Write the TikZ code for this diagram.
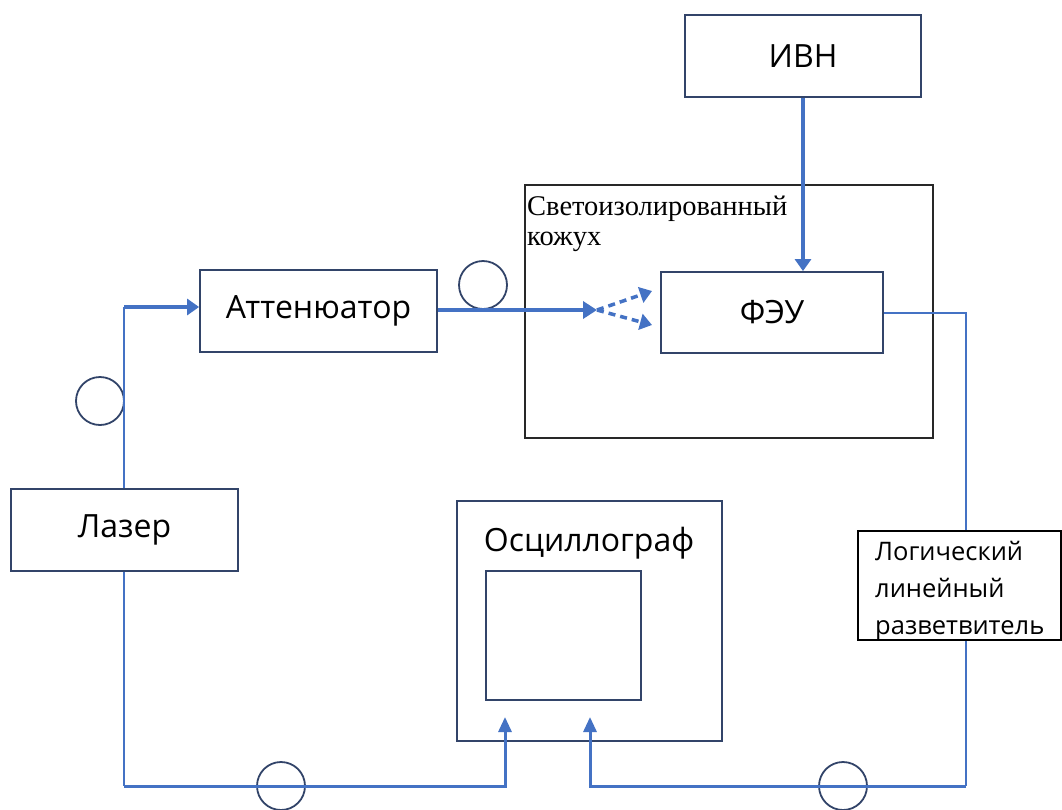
\documentclass[tikz,border=0pt]{standalone}
\usepackage{fontspec}
\setmainfont{Open Sans}
\newfontfamily\serifrm{Liberation Serif}
\usetikzlibrary{arrows.meta,positioning}
\definecolor{lineblue}{RGB}{68,114,196}
\definecolor{boxblue}{RGB}{50,68,105}
\definecolor{darkgray}{RGB}{40,40,40}

\begin{document}
\begin{tikzpicture}[
  x=1pt, y=-1pt,
  every node/.style={inner sep=0pt, text centered},
  block/.style={rectangle, draw=boxblue, line width=1.8pt, font=\fontsize{32}{38}\selectfont},
  loop/.style={circle, draw=boxblue, line width=1.8pt, minimum size=48pt},
  fibre/.style={lineblue, line width=2pt},
  arrow/.style={-{Triangle[length=12pt,width=16pt]}, lineblue, line width=4.5pt},
  sigarrow/.style={-{Triangle[length=15pt,width=13pt]}, lineblue, line width=3pt},
  beam/.style={-{Triangle[length=12pt,width=16pt]}, lineblue, line width=3.5pt, dash pattern=on 7pt off 5pt}
]
\clip (0,0) rectangle (1062,809);
\fill[white] (0,0) rectangle (1062,809);

% Housing
\node[rectangle, draw=darkgray, line width=1.8pt, minimum width=408pt, minimum height=253pt] (kozhuh) at (729,311.5) {};
\node[font=\serifrm\fontsize{28.5}{30}\selectfont, align=left, anchor=north west] (kozhuhlabel) at (527,196) {Светоизолированный\\кожух};

% Blocks
\node[block, minimum width=236pt, minimum height=82pt] (ivn) at (803,56) {ИВН};
\node[block, minimum width=222pt, minimum height=81pt] (feu) at (772,312.5) {ФЭУ};
\node[block, minimum width=237pt, minimum height=82pt] (atten) at (318.5,311) {Аттенюатор};
\node[block, minimum width=227pt, minimum height=82pt] (lazer) at (124.5,530) {Лазер};

% Oscilloscope
\node[block, minimum width=265pt, minimum height=240pt] (osc) at (589.5,621) {};
\node[font=\fontsize{32}{38}\selectfont] (osclabel) at (589,543) {Осциллограф};
\node[rectangle, draw=boxblue, line width=1.8pt, minimum width=155pt, minimum height=129pt] (screen) at (563.5,635.5) {};

% Splitter
\node[rectangle, draw=black, line width=1.8pt, minimum width=203pt, minimum height=109pt] (splitter) at (959.5,585.5) {};
\node[font=\fontsize{25.5}{37}\selectfont, align=left, anchor=north west] (splitlabel) at (875,541) {Логический\\линейный\\разветвитель};

% Fibre loops
\node[loop] (loop1) at (100,401) {};
\node[loop] (loop2) at (483,285) {};
\node[loop] (loop3) at (281,786) {};
\node[loop] (loop4) at (843,786) {};

% Laser to attenuator
\coordinate (bend) at (124,307);
\draw[fibre] (lazer.north -| bend) -- (bend);
\draw[arrow] (bend) -- (atten.west |- bend);

% Attenuator to PMT
\coordinate (split) at (597,310);
\draw[arrow, -{Triangle[length=14pt,width=17pt]}] (atten.east |- split) -- (split);
\coordinate (beamup) at (652,291);
\coordinate (beamdown) at (652,325);
\draw[beam] (split) -- (beamup);
\draw[beam] (split) -- (beamdown);

% HV supply to PMT
\draw[arrow] (ivn.south) -- (ivn.south |- feu.north);

% PMT to splitter
\coordinate (feuout) at (966,312.5);
\draw[fibre] (feu.east) -- (feuout) -- (feuout |- splitter.north);

% Signals to oscilloscope
\coordinate (inleft) at (505,717);
\coordinate (inright) at (590,717);
\draw[fibre] (lazer.south -| bend) -- (bend |- loop3);
\draw[sigarrow] (bend |- loop3) -- (inleft |- loop3) -- (inleft);
\draw[fibre] (splitter.south -| feuout) -- (feuout |- loop4);
\draw[sigarrow] (feuout |- loop4) -- (inright |- loop4) -- (inright);

\end{tikzpicture}
\end{document}
